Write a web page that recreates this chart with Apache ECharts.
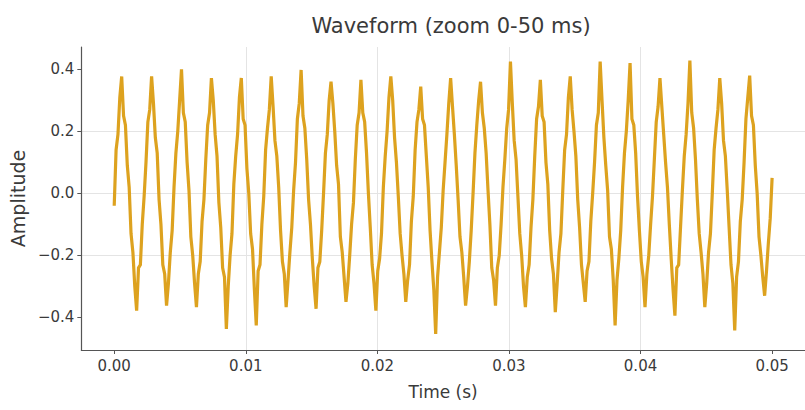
<!DOCTYPE html>
<html>
<head>
<meta charset="utf-8">
<script src="https://cdn.jsdelivr.net/npm/echarts@6/dist/echarts.min.js"></script>
<style>
  html, body { margin: 0; padding: 0; background: #fff; }
  #chart { width: 805px; height: 410px; }
</style>
</head>
<body>
<div id="chart"></div>
<script>
// 440 Hz tone, 16 samples per cycle (peak/trough tips per cycle)
var sampleRate = 7040;
var amplitude = [
  -0.04, 0.14, 0.19, 0.31, 0.377, 0.25, 0.22, 0.09, 0.02, -0.13, -0.19, -0.30, -0.378, -0.24, -0.23, -0.10,
  -0.01, 0.10, 0.23, 0.27, 0.377, 0.29, 0.18, 0.13, -0.02, -0.10, -0.23, -0.26, -0.362, -0.29, -0.19, -0.12,
  0.02, 0.13, 0.20, 0.30, 0.400, 0.26, 0.23, 0.10, 0.01, -0.14, -0.20, -0.29, -0.367, -0.26, -0.22, -0.09,
  -0.02, 0.11, 0.22, 0.26, 0.372, 0.30, 0.19, 0.12, -0.03, -0.11, -0.24, -0.27, -0.437, -0.30, -0.20, -0.13,
  0.03, 0.12, 0.19, 0.31, 0.372, 0.24, 0.22, 0.08, 0.00, -0.13, -0.18, -0.31, -0.426, -0.25, -0.23, -0.10,
  -0.01, 0.14, 0.21, 0.27, 0.377, 0.28, 0.17, 0.12, 0.02, -0.12, -0.22, -0.26, -0.367, -0.28, -0.19, -0.11,
  0.01, 0.10, 0.24, 0.29, 0.398, 0.25, 0.21, 0.11, -0.02, -0.10, -0.21, -0.30, -0.372, -0.24, -0.22, -0.12,
  0.00, 0.13, 0.19, 0.30, 0.360, 0.29, 0.20, 0.09, 0.03, -0.14, -0.19, -0.27, -0.350, -0.29, -0.20, -0.10,
  -0.03, 0.11, 0.22, 0.26, 0.366, 0.26, 0.23, 0.13, 0.00, -0.11, -0.23, -0.29, -0.378, -0.25, -0.21, -0.13,
  0.02, 0.12, 0.20, 0.31, 0.377, 0.30, 0.18, 0.10, -0.01, -0.13, -0.20, -0.26, -0.350, -0.28, -0.23, -0.09,
  -0.01, 0.14, 0.23, 0.27, 0.344, 0.24, 0.22, 0.12, 0.02, -0.12, -0.22, -0.31, -0.453, -0.27, -0.19, -0.11,
  0.01, 0.10, 0.19, 0.29, 0.372, 0.28, 0.19, 0.09, -0.02, -0.14, -0.19, -0.27, -0.362, -0.30, -0.22, -0.12,
  0.00, 0.13, 0.22, 0.30, 0.360, 0.26, 0.21, 0.13, 0.01, -0.10, -0.24, -0.28, -0.362, -0.24, -0.20, -0.10,
  0.02, 0.11, 0.21, 0.27, 0.425, 0.29, 0.17, 0.11, -0.01, -0.13, -0.20, -0.30, -0.367, -0.27, -0.23, -0.11,
  -0.02, 0.12, 0.24, 0.28, 0.366, 0.25, 0.23, 0.10, 0.03, -0.12, -0.21, -0.26, -0.383, -0.29, -0.19, -0.13,
  0.01, 0.14, 0.19, 0.31, 0.377, 0.27, 0.20, 0.12, -0.02, -0.11, -0.23, -0.29, -0.350, -0.25, -0.22, -0.09,
  0.00, 0.10, 0.22, 0.26, 0.425, 0.30, 0.18, 0.09, 0.01, -0.14, -0.18, -0.28, -0.426, -0.28, -0.21, -0.12,
  0.02, 0.13, 0.20, 0.30, 0.420, 0.24, 0.22, 0.13, -0.01, -0.12, -0.22, -0.27, -0.367, -0.26, -0.20, -0.10,
  -0.01, 0.11, 0.23, 0.28, 0.372, 0.28, 0.19, 0.10, 0.02, -0.10, -0.21, -0.31, -0.394, -0.24, -0.23, -0.11,
  0.01, 0.12, 0.19, 0.29, 0.428, 0.26, 0.21, 0.11, -0.02, -0.13, -0.19, -0.26, -0.367, -0.29, -0.19, -0.13,
  0.00, 0.14, 0.21, 0.27, 0.372, 0.29, 0.17, 0.12, 0.01, -0.11, -0.23, -0.29, -0.442, -0.27, -0.22, -0.09,
  -0.02, 0.10, 0.24, 0.31, 0.380, 0.25, 0.22, 0.09, 0.00, -0.14, -0.20, -0.27, -0.330, -0.25, -0.16, -0.08,
  0.05
];
var xTicks = [0, 0.01, 0.02, 0.03, 0.04, 0.05];
var yTicks = [-0.4, -0.2, 0, 0.2, 0.4];

var font = "'DejaVu Sans', sans-serif";
var ink = '#3a3a3a';
var gridColor = '#e4e4e4';
var axisColor = '#555';

var points = amplitude.map(function(v, i) { return [i / sampleRate, v]; });

var chart = echarts.init(document.getElementById('chart'), null, { renderer: 'svg' });
chart.setOption({
  animation: false,
  backgroundColor: '#fff',
  textStyle: { fontFamily: font },
  title: {
    text: 'Waveform (zoom 0-50 ms)',
    left: 446,
    top: 10,
    textAlign: 'center',
    textStyle: { color: ink, fontSize: 21, fontWeight: 'normal', fontFamily: font }
  },
  grid: { left: 78, right: -6, top: 47, bottom: 60 },
  xAxis: {
    type: 'value',
    min: -0.0025,
    max: 0.0525,
    splitNumber: 5,
    name: 'Time (s)',
    nameLocation: 'middle',
    nameGap: 33,
    nameTextStyle: { color: ink, fontSize: 17, fontFamily: font },
    axisLine: { onZero: false, lineStyle: { color: axisColor, width: 1.2 } },
    axisTick: { show: true, length: 4, customValues: xTicks, lineStyle: { color: axisColor } },
    axisLabel: {
      customValues: xTicks,
      color: ink, fontSize: 15, margin: 8, fontFamily: font,
      formatter: function(v) { return v.toFixed(2); }
    },
    splitLine: { show: true, showMinLine: false, showMaxLine: false, lineStyle: { color: gridColor, width: 1 } }
  },
  yAxis: {
    type: 'value',
    min: -0.505,
    max: 0.472,
    splitNumber: 5,
    name: 'Amplitude',
    nameLocation: 'middle',
    nameGap: 50,
    nameRotate: 90,
    nameTextStyle: { color: ink, fontSize: 19, fontFamily: font },
    axisLine: { show: true, onZero: false, lineStyle: { color: axisColor, width: 1.2 } },
    axisTick: { show: true, length: 4, customValues: yTicks, lineStyle: { color: axisColor } },
    axisLabel: {
      customValues: yTicks,
      color: ink, fontSize: 15, margin: 7, fontFamily: font,
      formatter: function(v) { return v.toFixed(1).replace('-', '\u2212'); }
    },
    splitLine: { show: true, showMinLine: false, showMaxLine: false, lineStyle: { color: gridColor, width: 1 } }
  },
  series: [{
    type: 'line',
    data: points,
    showSymbol: false,
    symbol: 'none',
    lineStyle: { color: '#DDA21F', width: 3.2, join: 'miter', miterLimit: 2 },
    clip: true
  }]
});
window.addEventListener('resize', function() { chart.resize(); });
</script>
</body>
</html>
